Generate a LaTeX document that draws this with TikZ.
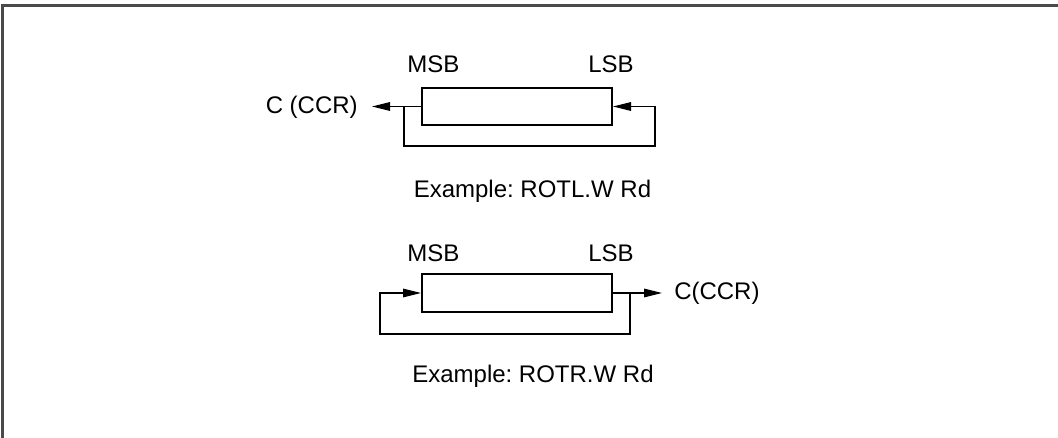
\documentclass[tikz,border=0pt]{standalone}
\usepackage{fontspec}
\setmainfont{Liberation Sans}
\usetikzlibrary{arrows.meta}
\definecolor{framecol}{HTML}{4A4A4A}
\tikzset{
  lbl/.style={inner sep=0pt, font=\fontsize{18}{21}\selectfont\frenchspacing},
  regbox/.style={draw, line width=1.5pt, minimum width=142.5pt, minimum height=28pt, inner sep=0pt},
  conn/.style={line width=0.8pt},
  arr/.style={conn, -{Triangle[length=13.5pt, width=6.5pt]}},
  frameline/.style={draw=framecol, line width=1.6pt}
}
\begin{document}
\begin{tikzpicture}[x=0.75pt, y=-0.75pt]
\useasboundingbox (0,0) rectangle (1058,438);
\draw[frameline] (2.5,438) -- (2.5,5.5) -- (1058,5.5);

% top diagram: ROTL
\node[regbox] (box1) at (517,106.5) {};
\node[lbl, anchor=base west] (msb1) at (407,73) {MSB};
\node[lbl, anchor=base west] (lsb1) at (588,73) {LSB};
\node[lbl, anchor=east] (ccr1) at (358,107) {C (CCR)};
\node[lbl, anchor=base] (ex1) at (532.5,198) {Example: ROTL.W Rd};
\coordinate (tip1) at (372,106.5);
\coordinate (j1) at (404,106.5);
\coordinate (b1) at (655,146);
\draw[arr] (box1.west) -- (tip1);
\draw[arr] (j1) |- (b1) |- (box1.east);

% bottom diagram: ROTR
\node[regbox] (box2) at (517,293) {};
\node[lbl, anchor=base west] (msb2) at (407,262) {MSB};
\node[lbl, anchor=base west] (lsb2) at (588,262) {LSB};
\node[lbl, anchor=west] (ccr2) at (674,293) {C(CCR)};
\node[lbl, anchor=base] (ex2) at (533,383) {Example: ROTR.W Rd};
\coordinate (tip2) at (662,293);
\coordinate (j2) at (630,293);
\coordinate (b2) at (380,334);
\draw[arr] (box2.east) -- (tip2);
\draw[arr] (j2) |- (b2) |- (box2.west);
\end{tikzpicture}
\end{document}
